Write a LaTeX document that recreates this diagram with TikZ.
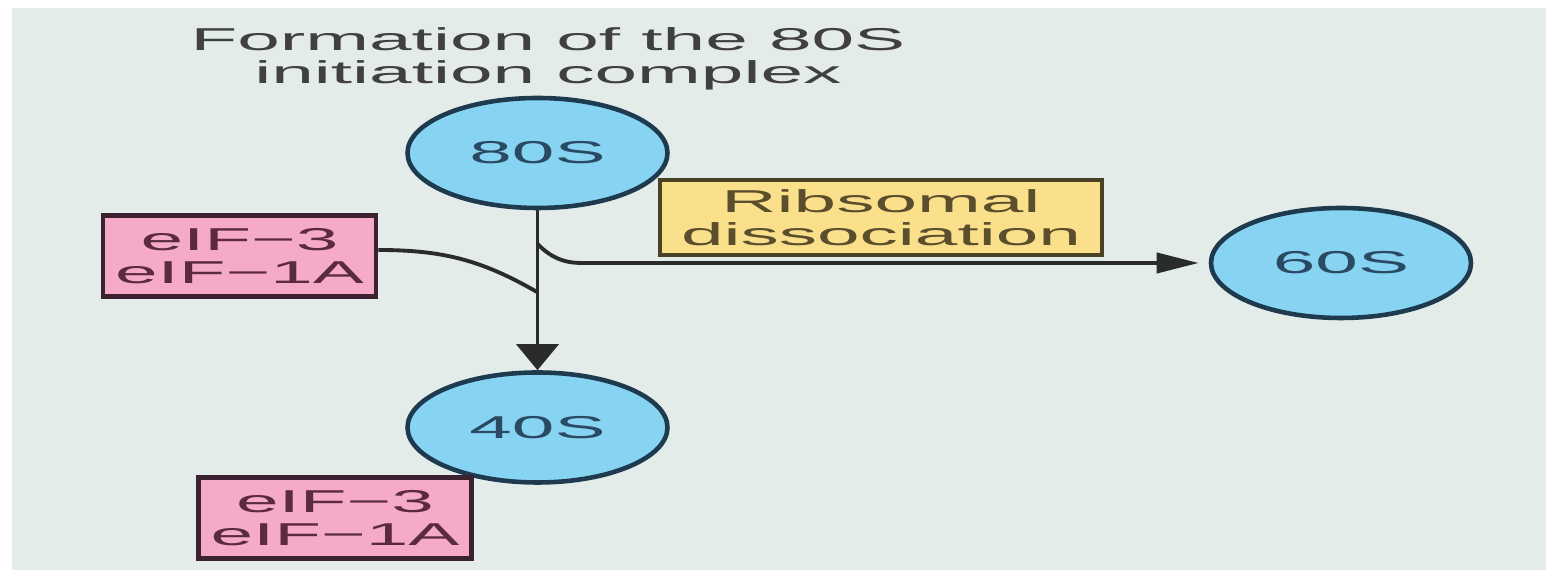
\documentclass[tikz,border=0pt]{standalone}
\usepackage{fontspec}
\setmainfont{Liberation Sans}
\usepackage{graphicx}
\usetikzlibrary{arrows.meta,shapes.geometric}
\definecolor{bgcol}{HTML}{E3ECE9}
\definecolor{ribfill}{HTML}{86D3F2}
\definecolor{ribline}{HTML}{1E3A4E}
\definecolor{ribtext}{HTML}{2A4A64}
\definecolor{eiffill}{HTML}{F5AAC8}
\definecolor{eifline}{HTML}{3A2230}
\definecolor{eiftext}{HTML}{5C2A40}
\definecolor{dissfill}{HTML}{FBE08C}
\definecolor{dissline}{HTML}{4A4224}
\definecolor{disstext}{HTML}{5A4E2C}
\definecolor{titletext}{HTML}{404040}
\definecolor{linkcol}{HTML}{2A2C2C}
% text in the original is stretched sideways
\newcommand{\wide}[1]{\scalebox{2.42}[1]{#1}}
\begin{document}
\begin{tikzpicture}[font=\fontsize{9}{9.4}\selectfont, line width=1.3pt,
  subunit/.style={ellipse, draw=ribline, fill=ribfill, text=ribtext, minimum width=2.6cm, minimum height=1.1cm, inner sep=0pt},
  factorbox/.style={draw=eifline, fill=eiffill, text=eiftext, align=center, minimum width=2.73cm, minimum height=0.81cm, inner sep=0pt},
  dissbox/.style={draw=dissline, fill=dissfill, text=disstext, align=center, minimum width=4.42cm, minimum height=0.75cm, inner sep=0pt},
  link/.style={draw=linkcol, line width=1.1pt}]
  \useasboundingbox (0,0) rectangle (15.46,-5.70);
  \fill[white] (0,0) rectangle (15.46,-5.70);
  \fill[bgcol] (0.12,-0.08) rectangle (15.46,-5.70);

  \node[text=titletext, align=center] (title) at (5.48,-0.585) {\wide{Formation of the 80S}\\\wide{initiation complex}};
  \node[subunit] (s80) at (5.375,-1.53) {\wide{80S}};
  \node[subunit] (s60) at (13.41,-2.63) {\wide{60S}};
  \node[subunit] (s40) at (5.375,-4.275) {\wide{40S}};
  \node[factorbox] (fin) at (2.395,-2.56) {\wide{eIF−3}\\\wide{eIF−1A}};
  \node[factorbox] (fout) at (3.35,-5.18) {\wide{eIF−3}\\\wide{eIF−1A}};
  \node[dissbox] (diss) at (8.81,-2.175) {\wide{Ribsomal}\\\wide{dissociation}};

  \coordinate (joinin) at (5.37,-2.92);
  \coordinate (joinout) at (5.375,-2.44);
  \coordinate (bend) at (5.82,-2.63);

  \draw[link, -{Triangle[length=0.26cm, width=0.42cm]}] (s80) -- (s40);
  \draw[link] ([yshift=0.06cm]fin.east) to[out=0, in=150] (joinin);
  \draw[link, -{Triangle[length=0.42cm, width=0.2cm]}, shorten >=0.1cm] (joinout) to[out=-45, in=180] (bend) -- (s60.west);
\end{tikzpicture}
\end{document}
